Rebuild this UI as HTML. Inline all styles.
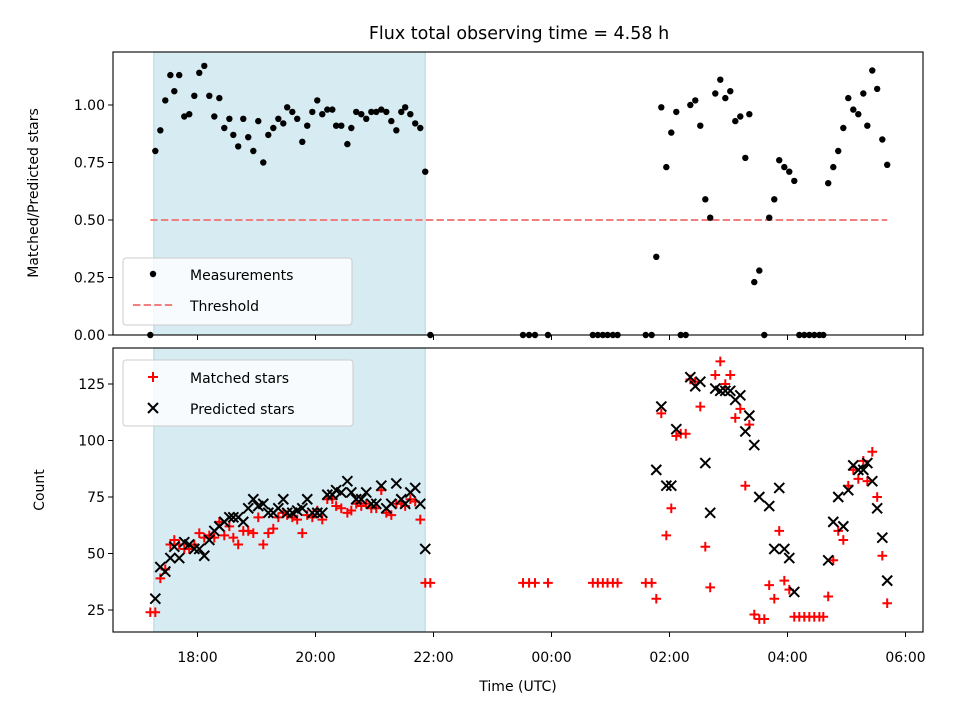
<!DOCTYPE html>
<html><head><meta charset="utf-8"><style>
html,body{margin:0;padding:0;background:#fff}
svg{display:block;font-family:"DejaVu Sans","Liberation Sans",sans-serif}
</style></head><body>
<svg id="chart" width="960" height="720" viewBox="0 0 960 720" xmlns="http://www.w3.org/2000/svg"></svg>
<script>
const times = [17.20,17.285,17.37,17.454,17.54,17.607,17.69,17.776,17.86,17.946,18.03,18.115,18.2,18.285,18.37,18.454,18.54,18.607,18.69,18.776,18.86,18.946,19.03,19.115,19.2,19.285,19.37,19.454,19.52,19.607,19.69,19.776,19.86,19.946,20.03,20.115,20.2,20.285,20.35,20.437,20.54,20.607,20.69,20.776,20.86,20.946,21.03,21.115,21.2,21.285,21.37,21.454,21.52,21.607,21.69,21.776,21.86,21.946,
23.517,23.62,23.72,23.94,24.70,24.785,24.87,24.95,25.04,25.12,25.597,25.698,
25.776,25.861,25.946,26.03,26.115,26.19,26.275,26.353,26.437,26.522,26.607,26.69,26.776,26.861,26.946,27.03,27.115,27.2,27.285,27.353,27.437,27.522,27.607,27.69,27.776,27.86,27.946,28.03,28.115,28.2,28.285,28.37,28.454,28.54,28.607,28.69,28.776,28.86,28.946,29.03,29.115,29.2,29.285,29.353,29.437,29.52,29.607,29.69];
const ratio = [0,0.80,0.89,1.02,1.13,1.06,1.13,0.95,0.96,1.04,1.14,1.17,1.04,0.95,1.03,0.90,0.94,0.87,0.82,0.94,0.86,0.80,0.93,0.75,0.87,0.90,0.94,0.92,0.99,0.97,0.94,0.84,0.91,0.97,1.02,0.96,0.98,0.98,0.91,0.91,0.83,0.90,0.97,0.96,0.94,0.97,0.97,0.98,0.97,0.93,0.89,0.97,0.99,0.96,0.92,0.90,0.71,0,
0,0,0,0,0,0,0,0,0,0,0,0,
0.34,0.99,0.73,0.88,0.97,0,0,1.00,1.02,0.91,0.59,0.51,1.05,1.11,1.03,1.06,0.93,0.95,0.77,0.96,0.23,0.28,0,0.51,0.59,0.76,0.73,0.71,0.67,0,0,0,0,0,0,0.66,0.73,0.80,0.90,1.03,0.98,0.96,1.05,0.91,1.15,1.07,0.85,0.74];
const matched = [24,24,39,43,54,56,54,52,52,54,59,57,58,57,64,58,62,57,54,60,60,59,66,54,59,61,66,68,67,66,65,59,67,66,69,65,74,74,71,70,68,69,72,71,72,70,70,78,68,67,72,72,71,74,73,65,37,37,
37,37,37,37,37,37,37,37,37,37,37,37,
30,112,58,70,102,103,103,127,126,115,53,35,129,135,125,129,110,114,80,107,23,21,21,36,30,60,38,34,22,22,22,22,22,22,22,31,47,60,56,80,87,83,91,82,95,75,49,28];
const predicted = [null,30,44,42,48,53,48,55,54,52,52,49,56,60,62,64,66,66,66,64,70,74,71,72,68,68,70,74,68,68,69,70,74,68,68,68,76,76,78,77,82,77,74,74,77,72,72,80,70,72,81,74,72,77,79,72,52,null,
null,null,null,null,null,null,null,null,null,null,null,null,
87,115,80,80,105,null,null,128,124,126,90,68,123,122,122,122,118,120,104,111,98,75,null,71,52,79,52,48,33,null,null,null,null,null,null,47,64,75,62,78,89,87,87,90,82,70,57,38];
const xTickLabels = ["18:00","20:00","22:00","00:00","02:00","04:00","06:00"];
const xTickHours = [18,20,22,24,26,28,30];
const topTicks = [0,0.25,0.5,0.75,1.0];
const botTicks = [25,50,75,100,125];
const threshold = 0.5;
const shadeRange = [17.26,21.86];

const NS="http://www.w3.org/2000/svg";
const svg=document.getElementById('chart');
function el(tag,attrs,parent){const e=document.createElementNS(NS,tag);for(const k in attrs)e.setAttribute(k,attrs[k]);(parent||svg).appendChild(e);return e;}
const L=113,R=923, T1=52,B1=335, T2=348,B2=632;
const xs=h=>197.5+(h-18)*59;
const y1=v=>335-v*230;
const y2=v=>610-(v-25)*2.26;

let t=el('text',{x:519,y:39,'text-anchor':'middle','font-size':17.5});t.textContent='Flux total observing time = 4.58 h';



function panel(top,bot,name){
  const g=el('g',{});
  
  
  const s=el('rect',{x:xs(shadeRange[0]),y:top,width:xs(shadeRange[1])-xs(shadeRange[0]),height:bot-top,fill:'#add8e6','fill-opacity':0.5,stroke:'#add8e6','stroke-width':1},g);
  
  
  return g;
}
function frame(g,top,bot){
  el('rect',{x:L,y:top,width:R-L,height:bot-top,fill:'none',stroke:'#000','stroke-width':1.1},g);
  xTickHours.forEach((h,i)=>{el('line',{x1:xs(h),x2:xs(h),y1:bot,y2:bot+5,stroke:'#000','stroke-width':1},g);});
}
const g1=panel(T1,B1,'ratio-panel');
const th=el('line',{x1:xs(times[0]),x2:xs(times[times.length-1]),y1:y1(threshold),y2:y1(threshold),stroke:'#f08080','stroke-width':2,'stroke-dasharray':'7.4,3.2'},g1);


ratio.forEach((v,i)=>{const c=el('circle',{cx:xs(times[i]),cy:y1(v),r:3.2,fill:'#000'},g1);
 
 });
frame(g1,T1,B1);
topTicks.forEach(v=>{el('line',{x1:L-5,x2:L,y1:y1(v),y2:y1(v),stroke:'#000'},g1);
 const tx=el('text',{x:L-8,y:y1(v)+5,'text-anchor':'end','font-size':14},g1);tx.textContent=v.toFixed(2);
 
 });
let yl=el('text',{transform:'translate(38,193) rotate(-90)','text-anchor':'middle','font-size':14});yl.textContent='Matched/Predicted stars';



const g2=panel(T2,B2,'count-panel');
matched.forEach((v,i)=>{const x=xs(times[i]),y=y2(v);
 const p=el('path',{d:`M${x-4.8},${y}H${x+4.8}M${x},${y-4.8}V${y+4.8}`,stroke:'#ff0000','stroke-width':2,fill:'none'},g2);
 
 });
predicted.forEach((v,i)=>{if(v===null)return;const x=xs(times[i]),y=y2(v);
 const p=el('path',{d:`M${x-5},${y-5}L${x+5},${y+5}M${x-5},${y+5}L${x+5},${y-5}`,stroke:'#000','stroke-width':2,fill:'none'},g2);
 
 });
frame(g2,T2,B2);
botTicks.forEach(v=>{el('line',{x1:L-5,x2:L,y1:y2(v),y2:y2(v),stroke:'#000'},g2);
 const tx=el('text',{x:L-8,y:y2(v)+5,'text-anchor':'end','font-size':14},g2);tx.textContent=v;
 
 });
xTickHours.forEach((h,i)=>{const tx=el('text',{x:xs(h),y:B2+30,'text-anchor':'middle','font-size':14},g2);tx.textContent=xTickLabels[i];
 
 });
let yl2=el('text',{transform:'translate(44,490) rotate(-90)','text-anchor':'middle','font-size':14});yl2.textContent='Count';


let xl=el('text',{x:518,y:691,'text-anchor':'middle','font-size':14});xl.textContent='Time (UTC)';



function legend(x,y,w,h,name){const g=el('g',{});
 
 
 el('rect',{x:x,y:y,width:w,height:h,rx:3,fill:'#fff','fill-opacity':0.8,stroke:'#ccc'},g);return g;}
const lg1=legend(123,258,229,67,'top-legend');
el('circle',{cx:153,cy:274,r:3.2,fill:'#000'},lg1);
let a=el('text',{x:190,y:280,'font-size':14},lg1);a.textContent='Measurements';
el('line',{x1:133,x2:173,y1:305,y2:305,stroke:'#f08080','stroke-width':2,'stroke-dasharray':'7.4,3.2'},lg1);
a=el('text',{x:190,y:311,'font-size':14},lg1);a.textContent='Threshold';
const lg2=legend(123,360,230,66,'bottom-legend');
el('path',{d:'M148,377H158M153,372V382',stroke:'#ff0000','stroke-width':2},lg2);
a=el('text',{x:190,y:383,'font-size':14},lg2);a.textContent='Matched stars';
el('path',{d:'M148,403L158,413M148,413L158,403',stroke:'#000','stroke-width':2},lg2);
a=el('text',{x:190,y:414,'font-size':14},lg2);a.textContent='Predicted stars';
</script>
</body></html>
